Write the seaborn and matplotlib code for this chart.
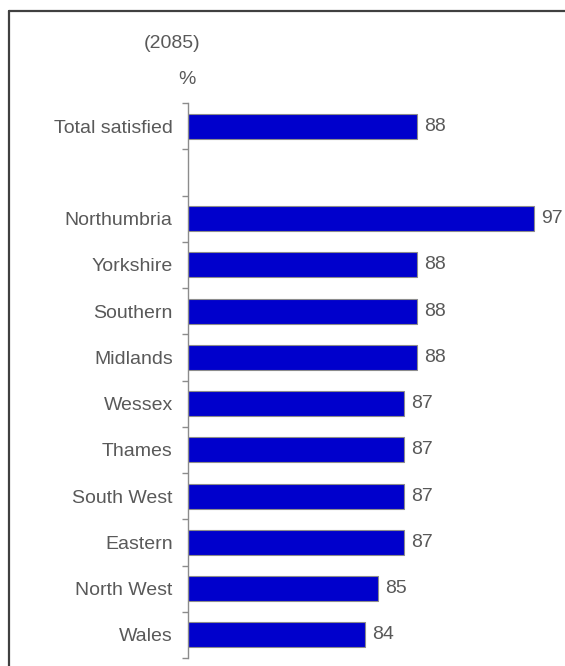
import matplotlib
matplotlib.use("Agg")
import matplotlib.pyplot as plt
import numpy as np
import pandas as pd
import seaborn as sns
from matplotlib.lines import Line2D

# Satisfaction by region (%), with a blank spacer row after the total
categories = ["Total satisfied", " ", "Northumbria", "Yorkshire", "Southern",
              "Midlands", "Wessex", "Thames", "South West", "Eastern",
              "North West", "Wales"]
values = [88, np.nan, 97, 88, 88, 88, 87, 87, 87, 87, 85, 84]
base_label = "(2085)"
unit_label = "%"

sns.set_theme(style="white")
plt.rcParams["font.family"] = ["Liberation Sans", "DejaVu Sans"]

TEXT = "#595959"
BAR = "#0000CC"
GREY = "#8c8c8c"
FS = 14

W, H = 565, 666
fig = plt.figure(figsize=(W / 100, H / 100), dpi=100)

# axes in pixel terms: spine at x=188, plot runs from y=103 to y=658
ax_left, ax_right = 188, 550
ax_top, ax_bottom = 103, 658
ax = fig.add_axes([ax_left / W, 1 - ax_bottom / H,
                   (ax_right - ax_left) / W, (ax_bottom - ax_top) / H])

df = pd.DataFrame({"category": categories, "value": values})
sns.barplot(data=df, y="category", x="value", order=categories,
            orient="h", color=BAR, saturation=1, width=0.54,
            edgecolor=GREY, linewidth=0.8, ax=ax)

xmin = 70.3
ax.set_xlim(xmin, xmin + (ax_right - ax_left) / 12.95)
ax.set_ylim(len(categories) - 0.5, -0.5)

# value labels at the end of each bar
for i, v in enumerate(values):
    if np.isfinite(v):
        ax.annotate(f"{v:.0f}", xy=(v, i), xytext=(5, 0),
                    textcoords="offset points", va="center", ha="left",
                    fontsize=FS, color=TEXT)

# axis styling: left spine only, ticks between categories
for side in ["top", "right", "bottom"]:
    ax.spines[side].set_visible(False)
ax.spines["left"].set_color(GREY)
ax.spines["left"].set_linewidth(1.0)
ax.set_xticks([])
ax.set_xlabel("")
ax.set_ylabel("")
ax.set_yticks(range(len(categories)))
ax.set_yticklabels(categories, fontsize=FS, color=TEXT)
ax.tick_params(axis="y", which="major", length=0, pad=11)
ax.set_yticks(np.arange(-0.5, len(categories), 1.0), minor=True)
ax.tick_params(axis="y", which="minor", length=4, width=1.0,
               color=GREY, direction="out", left=True)

# header texts above the axis
fig.text(172 / W, 1 - 43 / H, base_label, ha="center", va="center",
         fontsize=FS, color=TEXT)
fig.text(187 / W, 1 - 79 / H, unit_label, ha="center", va="center",
         fontsize=FS, color=TEXT)

# outer frame (top and left edges)
frame_color = "#404040"
fig.add_artist(Line2D([8.5 / W, 1.0], [1 - 10.5 / H, 1 - 10.5 / H],
                      transform=fig.transFigure, color=frame_color, lw=1.6))
fig.add_artist(Line2D([8.5 / W, 8.5 / W], [0.0, 1 - 10.5 / H],
                      transform=fig.transFigure, color=frame_color, lw=1.6))

fig.savefig("out.png", dpi=100, facecolor="white")
